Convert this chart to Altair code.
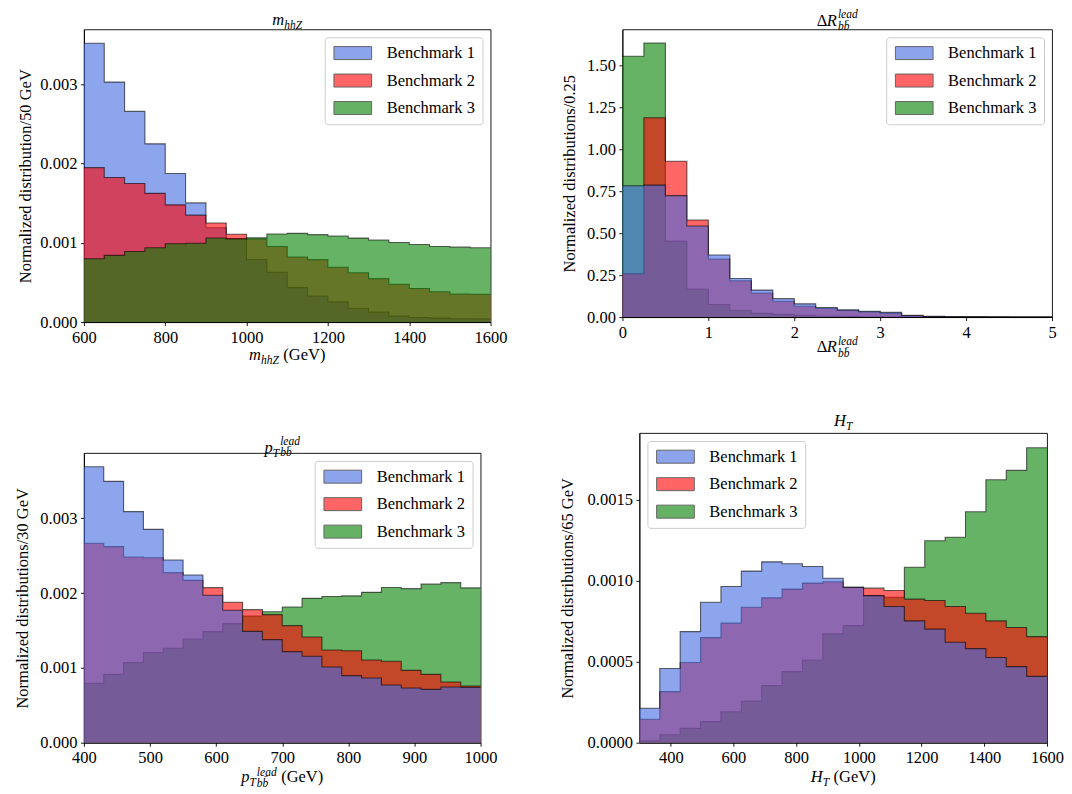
import altair as alt
import pandas as pd

FONT = "Liberation Serif"
FS = 16.5
SS = 11.5
NAMES = ["Benchmark 1", "Benchmark 2", "Benchmark 3"]
COLORS = ["#4169e1", "#ff0000", "#008000"]

# ---------------- data ----------------
# Panel 1: m_hhZ, bins of 50 GeV from 600 GeV, values in units of 1e-3
m_start, m_width = 600, 50
m_b1 = [3.52, 3.03, 2.66, 2.25, 1.875, 1.505, 1.19, 1.055, 0.79, 0.63,
        0.435, 0.33, 0.255, 0.175, 0.125, 0.075, 0.058, 0.05, 0.042, 0.04]
m_b2 = [1.95, 1.825, 1.75, 1.625, 1.48, 1.35, 1.25, 1.108, 1.05, 0.955,
        0.822, 0.788, 0.693, 0.622, 0.548, 0.477, 0.423, 0.382, 0.355, 0.352]
m_b3 = [0.80, 0.842, 0.892, 0.938, 0.988, 0.996, 1.062, 1.05, 1.065, 1.112,
        1.12, 1.104, 1.087, 1.06, 1.037, 1.004, 0.979, 0.954, 0.946, 0.938]

# Panel 2: Delta R, bins of 0.25 from 0
dr_start, dr_width = 0.0, 0.25
dr_b1 = [0.783, 0.787, 0.724, 0.543, 0.370, 0.230, 0.161, 0.110, 0.079, 0.057,
         0.043, 0.035, 0.028, 0.010, 0.004, 0.002, 0.001, 0.001, 0.0, 0.0]
dr_b2 = [0.258, 1.189, 0.929, 0.579, 0.346, 0.217, 0.144, 0.094, 0.065, 0.051,
         0.039, 0.031, 0.022, 0.008, 0.003, 0.002, 0.001, 0.0, 0.0, 0.0]
dr_b3 = [1.555, 1.634, 0.453, 0.167, 0.075, 0.041, 0.022, 0.016, 0.010, 0.006,
         0.004, 0.002, 0.002, 0.001, 0.0, 0.0, 0.0, 0.0, 0.0, 0.0]

# Panel 3: pT lead bb, bins of 30 GeV from 400 GeV, units of 1e-3
pt_start, pt_width = 400, 30
pt_b1 = [3.69, 3.495, 3.09, 2.853, 2.443, 2.243, 1.971, 1.77, 1.489, 1.378,
         1.217, 1.155, 1.012, 0.896, 0.865, 0.771, 0.731, 0.713, 0.745, 0.74]
pt_b2 = [2.666, 2.622, 2.483, 2.474, 2.274, 2.171, 2.073, 1.877, 1.779, 1.712,
         1.565, 1.413, 1.239, 1.23, 1.106, 1.088, 0.967, 0.914, 0.811, 0.758]
pt_b3 = [0.794, 0.914, 1.07, 1.204, 1.262, 1.387, 1.485, 1.592, 1.694, 1.75,
         1.815, 1.93, 1.955, 1.963, 2.01, 2.075, 2.06, 2.12, 2.14, 2.07]

# Panel 4: H_T, bins of 65 GeV from 300 GeV, units of 1e-3
ht_start, ht_width = 300, 65
ht_b1 = [0.212, 0.457, 0.685, 0.866, 0.963, 1.058, 1.115, 1.103, 1.086, 1.014,
         0.957, 0.907, 0.840, 0.751, 0.700, 0.619, 0.580, 0.525, 0.469, 0.409]
ht_b2 = [0.144, 0.315, 0.494, 0.648, 0.737, 0.835, 0.893, 0.947, 0.984, 0.992,
         0.959, 0.953, 0.938, 0.885, 0.877, 0.840, 0.798, 0.751, 0.710, 0.654]
ht_b3 = [0.012, 0.049, 0.088, 0.130, 0.191, 0.257, 0.352, 0.438, 0.510, 0.671,
         0.722, 0.907, 0.897, 1.082, 1.245, 1.267, 1.424, 1.621, 1.679, 1.819]

# ---------------- helpers ----------------
ONE = pd.DataFrame({"k": [0]})
IT = {'m': .722, 'h': .5, 'Z': .556, 'p': .5, 'T': .556, 'H': .722, 'R': .611,
      'l': .278, 'e': .444, 'a': .5, 'd': .5, 'b': .5}
RM = {'Δ': .612, ' ': .25, '(': .333, 'G': .722, 'e': .444, 'V': .722, ')': .333}


def tw(t, style, size):
    tbl = IT if style == "italic" else RM
    w = 0.0
    for c in t:
        if ord(c) in (0x304, 0x305):
            continue
        w += tbl.get(c, 0.5)
    return w * size


def txt(t, x, y, size, style):
    return alt.Chart(ONE).mark_text(
        align="left", baseline="alphabetic", font=FONT, fontSize=size,
        fontStyle=style, color="black"
    ).encode(x=alt.value(x), y=alt.value(y), text=alt.value(t))


def math_label(parts, cx, base, sup=-7, sub=5):
    widths = []
    for p in parts:
        if p[0] == "base":
            widths.append(tw(p[1], p[2], FS))
        elif p[0] == "sub":
            widths.append(tw(p[1], p[2], SS))
        elif p[0] == "gap":
            widths.append(p[1])
        else:
            widths.append(max(tw(p[1], p[3], SS), tw(p[2], p[3], SS)) + 1)
    x = cx - sum(widths) / 2
    out = []
    for p, w in zip(parts, widths):
        if p[0] == "base":
            out.append(txt(p[1], x, base, FS, p[2]))
        elif p[0] == "sub":
            out.append(txt(p[1], x, base + 4, SS, p[2]))
        elif p[0] == "subsup":
            out.append(txt(p[1], x + 1, base + sup, SS, p[3]))
            out.append(txt(p[2], x + 1, base + sub, SS, p[3]))
        x += w
    return out


def hist_df(start, width, vals, scale, name):
    n = len(vals)
    xs = [start + i * width for i in range(n + 1)]
    ys = [v * scale for v in vals] + [vals[-1] * scale]
    return pd.DataFrame({"x": xs, "y": ys, "series": name})


SYM = "M-1,-1L4.8,-1L4.8,1L-1,1Z"


def panel(series, order, xdom, xticks, xfmt, ydom, yticks, yfmt, ytitle,
          ytitle_x, w, h, lorient, title, xtitle, spacer):
    xs = alt.Scale(domain=xdom, nice=False, zero=False)
    ys = alt.Scale(domain=ydom, nice=False, zero=True)
    xax = alt.Axis(values=xticks, format=xfmt, title=None, labelFlush=False,
                   labelOverlap=False)
    yax = alt.Axis(values=yticks, format=yfmt, title=ytitle, titleX=ytitle_x,
                   titleY=h / 2, titleAngle=270, titleAlign="center",
                   titleBaseline="middle", labelOverlap=False)
    cs = alt.Scale(domain=NAMES, range=COLORS)
    leg = alt.Legend(title=None, orient=lorient, offset=8, symbolType=SYM,
                     symbolSize=169, symbolStrokeColor="black",
                     symbolStrokeWidth=1, symbolOpacity=0.6,
                     labelFont=FONT, labelFontSize=FS, labelColor="black",
                     labelOffset=38, padding=7.5, strokeColor="#cccccc",
                     fillColor="white", cornerRadius=3, rowPadding=9.5)
    L, T, R, B = spacer
    layers = [alt.Chart(ONE).mark_rule(strokeOpacity=0, opacity=0).encode(
        x=alt.value(L), x2=alt.value(R), y=alt.value(T), y2=alt.value(B))]
    for i in order:
        df = series[i]
        layers.append(alt.Chart(df).mark_area(
            interpolate="step-after", opacity=0.6).encode(
            x=alt.X("x:Q", scale=xs, axis=xax),
            y=alt.Y("y:Q", scale=ys, axis=yax),
            color=alt.Color("series:N", scale=cs, legend=leg)))
        layers.append(alt.Chart(df).mark_line(
            interpolate="step-after", color="black", opacity=0.6,
            strokeWidth=1.1).encode(
            x=alt.X("x:Q", scale=xs, axis=xax),
            y=alt.Y("y:Q", scale=ys, axis=yax)))
    tp, tb, tsup, tsub = title
    layers += math_label(tp, w / 2, tb, tsup, tsub)
    xp, xb, xsup, xsub = xtitle
    layers += math_label(xp, w / 2, h + xb, xsup, xsub)
    return alt.layer(*layers).properties(width=w, height=h)


BB = "bb\u0304"
GEV = [("gap", 4.5), ("base", "(GeV)", "normal")]
MHHZ = [("base", "m", "italic"), ("sub", "hhZ", "italic")]
DR = [("base", "Δ", "normal"), ("base", "R", "italic"), ("subsup", "lead", BB, "italic")]
PT = [("base", "p", "italic"), ("sub", "T", "italic"), ("subsup", "lead", BB, "italic")]
HT = [("base", "H", "italic"), ("sub", "T", "italic")]

# Panel 1
s1 = [hist_df(m_start, m_width, v, 1e-3, n) for v, n in zip([m_b1, m_b2, m_b3], NAMES)]
w1, h1 = 407, 293
p1 = panel(s1, [0, 1, 2], [600, 1600], [600, 800, 1000, 1200, 1400, 1600], "d",
           [0, 1.05 * max(m_b1) * 1e-3], [0, 0.001, 0.002, 0.003], ".3f",
           "Normalized distribution/50 GeV", -58, w1, h1, "top-right",
           (MHHZ, -4, -7, 5), (MHHZ + GEV, 38, -7, 5),
           (-75, -20, 430, 342))

# Panel 2
s2 = [hist_df(dr_start, dr_width, v, 1.0, n) for v, n in zip([dr_b1, dr_b2, dr_b3], NAMES)]
w2, h2 = 430, 288
p2 = panel(s2, [2, 1, 0], [0, 5], [0, 1, 2, 3, 4, 5], "d",
           [0, 1.05 * max(dr_b3)], [0, 0.25, 0.5, 0.75, 1.0, 1.25, 1.5], ".2f",
           "Normalized distributions/0.25", -53, w2, h2, "top-right",
           (DR, -3, -8, 4), (DR, 35, -7, 5),
           (-107, -20, 432, 342))

# Panel 3
s3 = [hist_df(pt_start, pt_width, v, 1e-3, n) for v, n in zip([pt_b1, pt_b2, pt_b3], NAMES)]
w3, h3 = 397, 290
p3 = panel(s3, [2, 1, 0], [400, 1000], [400, 500, 600, 700, 800, 900, 1000], "d",
           [0, 1.05 * max(pt_b1) * 1e-3], [0, 0.001, 0.002, 0.003], ".3f",
           "Normalized distributions/30 GeV", -61, w3, h3, "top-right",
           (PT, 0, -8, 3), (PT + GEV, 39, -6, 5),
           (-75, -16, 430, h3 + 41))

# Panel 4
s4 = [hist_df(ht_start, ht_width, v, 1e-3, n) for v, n in zip([ht_b1, ht_b2, ht_b3], NAMES)]
w4, h4 = 408, 310
p4 = panel(s4, [2, 1, 0], [300, 1600], [400, 600, 800, 1000, 1200, 1400, 1600], "d",
           [0, 1.05 * max(ht_b3) * 1e-3], [0, 0.0005, 0.0010, 0.0015], ".4f",
           "Normalized distributions/65 GeV", -72, w4, h4, "top-left",
           (HT, -7, -7, 5), (HT + GEV, 39, -7, 5),
           (-124, -60, 410, h4 + 42))

vgap = alt.Chart(ONE).mark_rule(opacity=0).encode(
    x=alt.value(0), x2=alt.value(1), y=alt.value(0), y2=alt.value(1)
).properties(width=1, height=1, view=alt.ViewBackground(stroke="transparent"))

p3col = alt.vconcat(vgap, p3, spacing=0).resolve_scale(color="independent").resolve_legend(color="independent")

row1 = alt.hconcat(p1, p2, spacing=0).resolve_scale(color="independent").resolve_legend(color="independent")
row2 = alt.hconcat(p3col, p4, spacing=0).resolve_scale(color="independent").resolve_legend(color="independent")

chart = alt.vconcat(row1, row2, spacing=0).resolve_scale(
    color="independent").resolve_legend(color="independent").properties(
    padding=0
).configure_view(
    stroke="black", strokeWidth=0.9
).configure_axis(
    domainColor="black", domainWidth=0.9, tickColor="black", tickWidth=0.9,
    tickSize=3.5, labelFont=FONT, labelFontSize=FS, labelColor="black",
    labelPadding=3.5, titleFont=FONT, titleFontSize=FS, titleFontWeight="normal",
    titleColor="black", grid=False
)

chart.save("out.html", embed_options={"renderer": "svg", "actions": False})
